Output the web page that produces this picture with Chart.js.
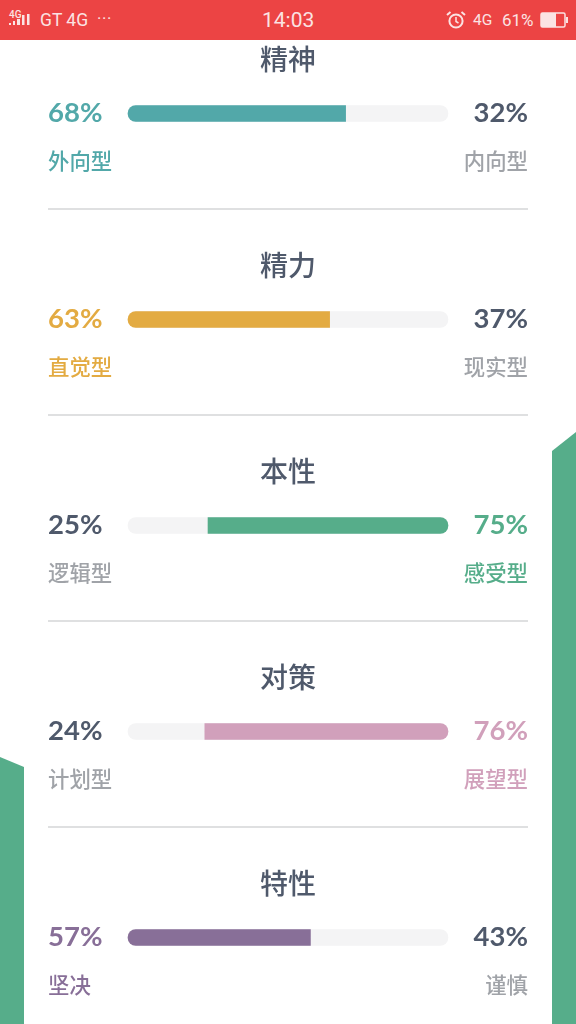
<!DOCTYPE html>
<html lang="zh-CN">
<head>
<meta charset="utf-8">
<title>性格维度</title>
<script src="https://cdn.jsdelivr.net/npm/chart.js@4/dist/chart.umd.min.js"></script>
<style>
    html, body { margin: 0; padding: 0; background: #fff; }
    body { position: relative; width: 576px; height: 1024px; overflow: hidden; }
    #chart { position: absolute; left: 0; top: 0; z-index: 2; }
    .deco { position: absolute; background: #56ad8a; z-index: 1; }
    #decoLeft { left: 0; top: 757px; width: 24px; height: 267px; clip-path: polygon(0 0, 100% 10px, 100% 100%, 0 100%); }
    #decoRight { left: 552px; top: 432px; width: 24px; height: 592px; clip-path: polygon(0 19px, 100% 0, 100% 100%, 0 100%); }
    #status { position: absolute; left: 0; top: 0; width: 576px; height: 40px; background: #ec4444; color: #fbe3e3; z-index: 3; font-family: Roboto, sans-serif; }
    #status span, #status svg { position: absolute; }
</style>
</head>
<body>
<div class="deco" id="decoLeft"></div>
<div class="deco" id="decoRight"></div>
<div id="status">
    <span style="left:9px;top:9px;font-size:10px;font-weight:500;">4G</span>
    <svg style="left:9px;top:14px;" width="24" height="13">
        <g fill="#fbe3e3">
            <rect x="0" y="9" width="2" height="2"/><rect x="4" y="7" width="2" height="4"/>
            <rect x="8" y="5" width="3" height="6"/><rect x="13" y="1" width="2.5" height="10"/>
            <rect x="18" y="0" width="2.5" height="11"/>
        </g>
    </svg>
    <span style="left:40px;top:10px;font-size:17.5px;">GT 4G</span>
    <span style="left:97px;top:8px;font-size:17px;letter-spacing:0.5px;">···</span>
    <span style="left:262px;top:8px;font-size:21px;">14:03</span>
    <svg style="left:446px;top:10px;" width="20" height="20" viewBox="0 0 20 20">
        <circle cx="10" cy="11" r="6.6" fill="none" stroke="#fbe3e3" stroke-width="2"/>
        <path d="M10 7v4.5l2.5 1.5" fill="none" stroke="#fbe3e3" stroke-width="1.5"/>
        <path d="M1 5l3.5-3M19 5l-3.5-3" stroke="#fbe3e3" stroke-width="2"/>
    </svg>
    <span style="left:473px;top:11px;font-size:15.5px;">4G</span>
    <span style="left:502px;top:10px;font-size:17px;">61%</span>
    <svg style="left:540px;top:12px;" width="28" height="16">
        <rect x="1" y="1" width="24" height="14" rx="1.5" fill="none" stroke="#fbe3e3" stroke-width="1.5"/>
        <rect x="1" y="1" width="15" height="14" fill="#fbe3e3"/>
        <rect x="26" y="5" width="2" height="6" fill="#fbe3e3"/>
    </svg>
</div>
<canvas id="chart" width="576" height="1024"></canvas>
<script>
    // 数据
    const dimensions = ['精神', '精力', '本性', '对策', '特性'];
    const leftLabels = ['外向型', '直觉型', '逻辑型', '计划型', '坚决'];
    const rightLabels = ['内向型', '现实型', '感受型', '展望型', '谨慎'];
    const leftValues = [68, 63, 25, 24, 57];
    const rightValues = [32, 37, 75, 76, 43];
    const colors = ['#52a8a9', '#e3ab42', '#56ad8a', '#d1a0bb', '#886f98'];

    const DARK = '#4f596b';
    const GREY = '#a0a3a8';
    const CJK = '"Noto Sans CJK SC", sans-serif';

    const leftWins = (i) => leftValues[i] >= rightValues[i];

    // 标题、百分比、类型文字和分隔线,位置跟随 y 轴
    const labelsPlugin = {
        id: 'labelsPlugin',
        afterDatasetsDraw(chart) {
            const { ctx, scales: { y } } = chart;
            const L = 48, R = 528;
            ctx.save();
            ctx.textBaseline = 'middle';
            dimensions.forEach((name, i) => {
                const cy = Math.floor(y.getPixelForValue(i));
                const win = leftWins(i);

                ctx.textAlign = 'center';
                ctx.fillStyle = DARK;
                ctx.font = '500 28px ' + CJK;
                ctx.fillText(name, 288, cy - 54);

                ctx.font = '700 27.5px Lato, sans-serif';
                ctx.textAlign = 'left';
                ctx.fillStyle = win ? colors[i] : DARK;
                ctx.fillText(leftValues[i] + '%', L, cy);
                ctx.textAlign = 'right';
                ctx.fillStyle = win ? DARK : colors[i];
                ctx.fillText(rightValues[i] + '%', R, cy);

                ctx.font = '500 21.4px ' + CJK;
                ctx.textAlign = 'left';
                ctx.fillStyle = win ? colors[i] : GREY;
                ctx.fillText(leftLabels[i], L, cy + 48);
                ctx.textAlign = 'right';
                ctx.fillStyle = win ? GREY : colors[i];
                ctx.fillText(rightLabels[i], R, cy + 48);

                if (i < dimensions.length - 1) {
                    ctx.fillStyle = '#dfe0e1';
                    ctx.fillRect(L, cy + 95, R - L, 2);
                }
            });
            ctx.restore();
        }
    };

    new Chart(document.getElementById('chart'), {
        type: 'bar',
        data: {
            labels: dimensions,
            datasets: [{
                // 占优的一侧从该侧画起
                data: leftValues.map((v, i) => leftWins(i) ? [0, v] : [v, 100]),
                backgroundColor: colors,
                borderRadius: leftValues.map((v, i) => leftWins(i)
                    ? { topLeft: 8, bottomLeft: 8, topRight: 0, bottomRight: 0 }
                    : { topLeft: 0, bottomLeft: 0, topRight: 8, bottomRight: 8 }),
                borderSkipped: false,
                barThickness: 16,
                grouped: false,
                clip: false
            }, {
                data: dimensions.map(() => 100),
                backgroundColor: '#f4f4f5',
                borderRadius: { topLeft: 8, bottomLeft: 8, topRight: 8, bottomRight: 8 },
                borderSkipped: false,
                barThickness: 16,
                grouped: false,
                clip: false
            }]
        },
        options: {
            indexAxis: 'y',
            responsive: false,
            animation: false,
            layout: { padding: { left: 128, right: 128, top: 113.5, bottom: 86.5 } },
            plugins: { legend: { display: false }, tooltip: { enabled: false } },
            scales: {
                x: { display: false, min: 0, max: 100 },
                y: { display: false, offset: false }
            }
        },
        plugins: [labelsPlugin]
    });
</script>
</body>
</html>
